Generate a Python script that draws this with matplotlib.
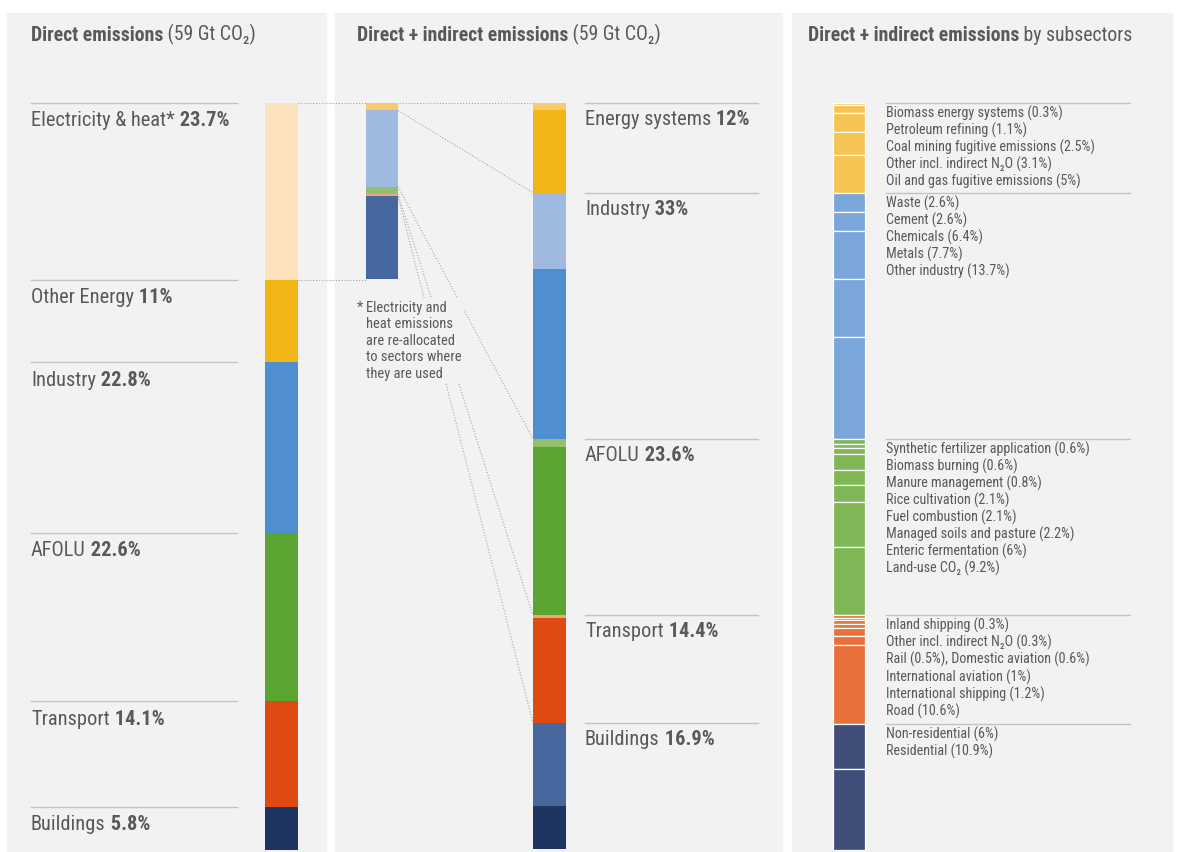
import matplotlib
matplotlib.use("Agg")
import numpy as np
import matplotlib.pyplot as plt
from matplotlib import font_manager
from matplotlib.patches import Rectangle

# ---- data (% of 59 Gt CO2) ----
direct_labels = ["Electricity & heat*", "Other Energy", "Industry", "AFOLU", "Transport", "Buildings"]
direct_values = [23.7, 11, 22.8, 22.6, 14.1, 5.8]

sectors = ["Energy systems", "Industry", "AFOLU", "Transport", "Buildings"]
sector_totals = ["12%", "33%", "23.6%", "14.4%", "16.9%"]
sector_direct = [11, 22.8, 22.6, 14.1, 5.8]
# electricity & heat re-allocated to the sectors where it is used
sector_indirect = [1.0, 10.2, 1.0, 0.3, 11.1]

energy_sub = [0.3, 1.1, 2.5, 3.1, 5]
energy_sub_labels = ["Biomass energy systems (0.3%)", "Petroleum refining (1.1%)",
                     "Coal mining fugitive emissions (2.5%)", "Other incl. indirect N\u2082O (3.1%)",
                     "Oil and gas fugitive emissions (5%)"]
industry_sub = [2.6, 2.6, 6.4, 7.7, 13.7]
industry_sub_labels = ["Waste (2.6%)", "Cement (2.6%)", "Chemicals (6.4%)", "Metals (7.7%)",
                       "Other industry (13.7%)"]
afolu_sub = [0.6, 0.6, 0.8, 2.1, 2.1, 2.2, 6, 9.2]
afolu_sub_labels = ["Synthetic fertilizer application (0.6%)", "Biomass burning (0.6%)",
                    "Manure management (0.8%)", "Rice cultivation (2.1%)", "Fuel combustion (2.1%)",
                    "Managed soils and pasture (2.2%)", "Enteric fermentation (6%)",
                    "Land-use CO\u2082 (9.2%)"]
transport_sub = [0.3, 0.3, 0.5, 0.6, 1, 1.2, 10.6]
transport_sub_labels = ["Inland shipping (0.3%)", "Other incl. indirect N\u2082O (0.3%)",
                        "Rail (0.5%), Domestic aviation (0.6%)", "International aviation (1%)",
                        "International shipping (1.2%)", "Road (10.6%)"]
buildings_sub = [6, 10.9]
buildings_sub_labels = ["Non-residential (6%)", "Residential (10.9%)"]

subsectors = [energy_sub, industry_sub, afolu_sub, transport_sub, buildings_sub]
subsector_labels = [energy_sub_labels, industry_sub_labels, afolu_sub_labels,
                    transport_sub_labels, buildings_sub_labels]

# ---- style ----
direct_colors = ["#fde3bd", "#f2b516", "#4f8fcf", "#5aa432", "#dd4b13", "#1d3560"]
indirect_colors = ["#fbc96b", "#9fb9e0", "#93c06d", "#eda57f", "#46689e"]
mid_direct_colors = direct_colors[1:]
sub_colors = ["#f6c453", "#7aa6da", "#7fb656", "#e8703a", "#414d79"]
TXT = "#58595b"
BG = "#f2f2f2"
RULE = "#c4c4c4"

# prefer a narrow face if one is installed
avail = {f.name for f in font_manager.fontManager.ttflist}
narrow = [f for f in ["Roboto Condensed", "Liberation Sans Narrow", "Open Sans Condensed",
                      "Noto Sans Display"] if f in avail]
condensed_dejavu = any(f.name == "DejaVu Sans" and "condensed" in str(f.stretch)
                       for f in font_manager.fontManager.ttflist)
if narrow:
    fam = [narrow[0], "DejaVu Sans"]
elif condensed_dejavu:
    fam = ["DejaVu Sans"]
    plt.rcParams["font.stretch"] = "condensed"
else:
    fam = [f for f in ["Roboto", "Open Sans"] if f in avail] + ["DejaVu Sans"]
plt.rcParams["font.family"] = fam

W, H = 1178, 852
TOP, SCALE = 103, 7.47          # pixel of 0 %, pixels per %


def py(p):
    return (p - TOP) / SCALE


fig = plt.figure(figsize=(W / 100, H / 100), dpi=100)
ax = fig.add_axes([0, 0, 1, 1])
ax.set_xlim(0, W)
ax.set_ylim(py(H), py(0))
ax.axis("off")
renderer = fig.canvas.get_renderer()


def fit_size(s, target_px, weight="normal"):
    t = fig.text(0, 0, s, fontsize=10, weight=weight)
    w = t.get_window_extent(renderer).width
    t.remove()
    return 10 * target_px / w


S_TITLE = fit_size("Direct emissions (59 Gt CO\u2082)", 226, "bold")
S_LAB = fit_size("Electricity & heat* 23.7%", 195)
S_SUB = fit_size("Synthetic fertilizer application (0.6%)", 203)
S_NOTE = fit_size("heat emissions", 86)

# panels
for x0, x1 in [(7, 326), (335, 782), (792, 1172)]:
    ax.add_patch(Rectangle((x0, py(13)), x1 - x0, py(H) - py(13), color=BG, zorder=0))


def two_part(x, y, first, second, size, bold_first, va="center"):
    t1 = ax.text(x, y, first, fontsize=size, color=TXT, va=va, ha="left",
                 weight="bold" if bold_first else "normal", zorder=5)
    ax.annotate(second, xy=(1, 0), xycoords=t1, va="bottom", ha="left", fontsize=size,
                color=TXT, weight="normal" if bold_first else "bold", zorder=5)


# titles
two_part(31, py(36), "Direct emissions", " (59 Gt CO\u2082)", S_TITLE, True)
two_part(357, py(36), "Direct + indirect emissions", " (59 Gt CO\u2082)", S_TITLE, True)
two_part(808, py(36), "Direct + indirect emissions", " by subsectors", S_TITLE, True)

# ---- left: direct emissions ----
bottoms = np.concatenate([[0], np.cumsum(direct_values)[:-1]])
ax.bar(281.5, direct_values, bottom=bottoms, width=33, color=direct_colors, zorder=3)
for lab, v, b in zip(direct_labels, direct_values, bottoms):
    ax.plot([31, 237], [b, b], color=RULE, lw=1, zorder=2)
    two_part(31, b + 2.4, lab, " %g%%" % v, S_LAB, False)

# ---- middle: re-allocated electricity & heat ----
elec_total = direct_values[0]
ib = np.concatenate([[0], np.cumsum(sector_indirect)[:-1]])
ax.bar(382, sector_indirect, bottom=ib, width=32, color=indirect_colors, zorder=3)

# main bar: indirect part on top of direct part per sector
mid_vals, mid_cols = [], []
for ind, d, ci, cd in zip(sector_indirect, sector_direct, indirect_colors, mid_direct_colors):
    mid_vals += [ind, d]
    mid_cols += [ci, cd]
mb = np.concatenate([[0], np.cumsum(mid_vals)[:-1]])
ax.bar(549.5, mid_vals, bottom=mb, width=33, color=mid_cols, zorder=3)
sector_tops = mb[::2]
for lab, tot, b in zip(sectors, sector_totals, sector_tops):
    ax.plot([585, 758], [b, b], color=RULE, lw=1, zorder=2)
    two_part(585, b + 2.2, lab, " " + tot, S_LAB, False)

# dotted connectors
dot = dict(color="#a6a6a6", lw=0.8, linestyle=(0, (1, 1.6)), zorder=1)
ax.plot([298, 533], [0, 0], **dot)
ax.plot([298, 366], [elec_total, elec_total], **dot)
for a, b in zip(ib[1:], sector_tops[1:]):
    ax.plot([398, 533], [a, b], **dot)

ax.text(357, py(301), "*", fontsize=S_NOTE, color=TXT, va="top", zorder=5)
ax.text(366, py(301), "Electricity and\nheat emissions\nare re-allocated\nto sectors where\nthey are used",
        fontsize=S_NOTE, color=TXT, va="top", ha="left", linespacing=1.22, zorder=5,
        bbox=dict(facecolor=BG, edgecolor="none", pad=2))

# ---- right: subsectors ----
cur = 0.0
for vals, labs, col in zip(subsectors, subsector_labels, sub_colors):
    sb = cur + np.concatenate([[0], np.cumsum(vals)[:-1]])
    ax.bar(849, vals, bottom=sb, width=32, color=col, edgecolor="white", linewidth=0.9, zorder=3)
    ax.plot([886, 1130], [cur, cur], color=RULE, lw=1, zorder=2)
    for i, lab in enumerate(labs):
        ax.text(886, cur + 1.38 + i * 2.28, lab, fontsize=S_SUB, color=TXT, va="center", zorder=5)
    cur += sum(vals)

fig.savefig("out.png", dpi=100)
